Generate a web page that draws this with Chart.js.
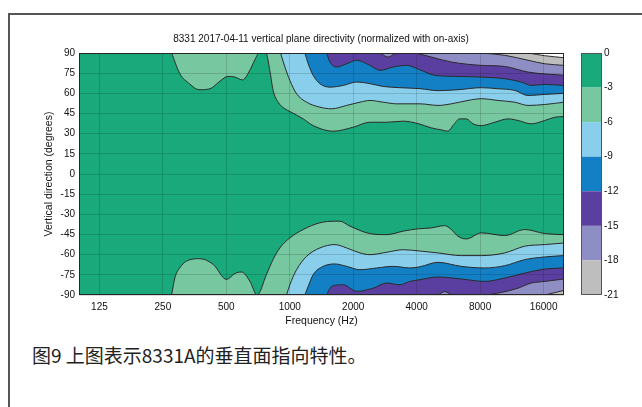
<!DOCTYPE html>
<html>
<head>
<meta charset="utf-8">
<script src="https://cdn.jsdelivr.net/npm/chart.js@4.4.0/dist/chart.umd.min.js"></script>
<style>
html, body { margin: 0; padding: 0; background: #fff; width: 642px; height: 407px; overflow: hidden; }
#frame { position: absolute; left: 8px; top: 13px; width: 700px; height: 500px; border-top: 2px solid #555; border-left: 2px solid #555; }
#wrap { position: absolute; left: 0; top: 0; width: 642px; height: 341px; }
#caption { position: absolute; left: 32px; top: 345px; font-family: "Noto Sans CJK SC", sans-serif; font-size: 19px; line-height: 1; color: #222; white-space: nowrap; }
</style>
</head>
<body>
<div id="frame"></div>
<div id="wrap"><canvas id="myChart"></canvas></div>
<div id="caption">图9 上图表示8331A的垂直面指向特性。</div>
<script>
// axes
const freqTicks = [125, 250, 500, 1000, 2000, 4000, 8000, 16000];
const levels = [0, -3, -6, -9, -12, -15, -18, -21];
// colour of the band under each level (0..-3 is the first), white past -21
const bandColors = ['#19a97b', '#77c8a0', '#89ceea', '#137fc5', '#5b3fa0', '#8e8ec4', '#bebebe', '#ffffff'];

// contour lines, upper half (angle > 0)
const top3Freq = [275, 301, 335, 371, 418, 466, 510, 549, 597, 646, 683, 716, 770, 804, 834, 881, 948, 1001, 1158, 1291, 1607, 2000, 2400, 2882, 3454, 4056, 4692, 5234, 5630, 5947, 6400, 6879, 7402, 8106, 9383, 10850, 12110, 14000, 16210, 18080, 20000];
const top3Ang = [90, 74.6, 67, 62.7, 63.4, 69, 72.6, 72.1, 70, 77, 85, 90, 90, 77, 62, 53.4, 48.5, 46.5, 41, 36, 31.8, 34.8, 38.5, 38.5, 39.3, 37.5, 34.3, 32.8, 31.8, 36, 41, 41, 37.3, 36, 38.5, 41, 39.8, 37.3, 39.8, 42.2, 42.8];
const top6Freq = [904, 948, 1001, 1077, 1202, 1390, 1579, 1861, 2152, 2400, 2776, 3213, 3717, 4147, 5049, 5840, 7007, 8106, 9729, 11680, 13500, 16210, 20000];
const top6Ang = [90, 79.6, 69.6, 59.7, 53.4, 49.7, 48.5, 51, 53.4, 54.7, 53.4, 52.2, 52.2, 52.2, 51, 52.2, 54.7, 56, 54.7, 53.4, 51, 51.7, 53.4];
const top9Freq = [1179, 1223, 1291, 1390, 1550, 1793, 2075, 2400, 2776, 3331, 4147, 5049, 6281, 8106, 9729, 11680, 13500, 16210, 20000];
const top9Ang = [90, 82, 73.4, 67.2, 64.6, 65.9, 68.4, 67.2, 65.1, 64.2, 63.5, 62, 62.7, 64.2, 63.4, 62.2, 58.4, 59.2, 60];
const top12Freq = [1495, 1550, 1668, 1861, 2075, 2400, 2678, 3097, 3585, 4147, 4870, 6281, 8106, 10470, 12550, 14000, 16210, 20000];
const top12Ang = [90, 83.3, 79.6, 82, 84.6, 80.8, 77.1, 79.6, 80.8, 77.5, 73.4, 72.6, 72.1, 70.9, 68.4, 65.9, 66.6, 65.9];
const top15Freq = [2678, 2932, 3154, 3406, 3883, 4056, 4692, 5840, 8106, 10470, 13500, 20000];
const top15Ang = [90, 87, 89.5, 90, 90, 89.5, 87, 83.3, 80.8, 80, 75.8, 73.4];
const top18Freq = [8106, 10470, 13500, 16210, 20000];
const top18Ang = [90, 88.3, 84.6, 82, 80.8];
const top21Freq = [13500, 16210, 20000];
const top21Ang = [90, 88, 86.5];

// contour lines, lower half (angle < 0)
const bot3Freq = [275, 285, 301, 324, 374, 433, 501, 549, 590, 646, 700, 776, 834, 897, 1001, 1158, 1390, 1637, 1729, 1929, 2400, 2882, 3454, 4056, 4692, 5431, 5840, 6281, 6879, 8106, 10470, 13020, 16210, 20000];
const bot3Ang = [-90, -77.2, -69.7, -64.7, -63, -67.2, -78.4, -74, -72.9, -79.6, -90, -74.6, -63.4, -55, -47.5, -41.3, -36.3, -35.1, -35.1, -38.8, -44.3, -45.1, -42.5, -40.8, -40.1, -38.4, -41.3, -46.3, -48.3, -43.8, -45.8, -41.3, -44.3, -45.1];
const bot6Freq = [965, 1001, 1077, 1202, 1390, 1637, 1861, 2152, 2400, 2882, 3454, 4147, 5049, 6512, 8106, 10470, 13020, 16210, 20000];
const bot6Ang = [-90, -82.4, -71.2, -61.2, -55, -52.5, -55, -58.7, -60, -58.2, -56.3, -57.3, -58.7, -60.7, -60.7, -58.7, -53.7, -52.5, -51.3];
const bot9Freq = [1179, 1223, 1291, 1441, 1637, 1861, 2152, 2583, 3097, 3717, 4147, 5049, 6512, 8411, 10470, 13020, 16210, 20000];
const bot9Ang = [-90, -83.6, -74.9, -68.7, -66.9, -68.7, -71.2, -69.9, -68.7, -69.9, -69, -65.7, -68.7, -69.9, -68.2, -63.7, -61.7, -60.7];
const bot12Freq = [1495, 1579, 1793, 2075, 2488, 2882, 3331, 3717, 4147, 5049, 6512, 8411, 10470, 13020, 16210, 20000];
const bot12Ang = [-90, -83.6, -82.4, -87.3, -84.9, -81.1, -82.4, -79.9, -78.6, -76.6, -78.1, -79.9, -77.4, -73.7, -70.7, -69.9];
const bot15Freq = [5049, 5431, 5947, 8106, 10080, 12110, 14000, 16210, 20000];
const bot15Ang = [-90, -87.5, -90, -90, -88.1, -84.9, -81.1, -79.9, -78.1];
const bot18Freq = [16210, 20000];
const bot18Ang = [-90, -86.6];

(() => {
    const myChart = document.getElementById('myChart').getContext('2d');
    const fontFam = '"Liberation Sans", Arial, sans-serif';

    // deepest level first so it ends up drawn on top
    const contours = [
        [-21, top21Freq, top21Ang, 'end'],
        [-18, top18Freq, top18Ang, 'end'],
        [-18, bot18Freq, bot18Ang, 'start'],
        [-15, top15Freq, top15Ang, 'end'],
        [-15, bot15Freq, bot15Ang, 'start'],
        [-12, top12Freq, top12Ang, 'end'],
        [-12, bot12Freq, bot12Ang, 'start'],
        [-9, top9Freq, top9Ang, 'end'],
        [-9, bot9Freq, bot9Ang, 'start'],
        [-6, top6Freq, top6Ang, 'end'],
        [-6, bot6Freq, bot6Ang, 'start'],
        [-3, top3Freq, top3Ang, 'end'],
        [-3, bot3Freq, bot3Ang, 'start']
    ];

    const datasets = contours.map(([level, f, a, fill]) => ({
        label: level + ' dB',
        data: f.map((v, i) => ({ x: v, y: a[i] })),
        fill: fill,
        backgroundColor: bandColors[-level / 3],
        borderColor: '#2b2b2b',
        borderWidth: 1,
        pointRadius: 0,
        cubicInterpolationMode: 'monotone'
    }));

    const contourPlugin = {
        id: 'contourExtras',
        beforeDatasetsDraw(chart) {
            const { ctx, chartArea: a } = chart;
            ctx.save();
            ctx.fillStyle = bandColors[0];
            ctx.fillRect(a.left, a.top, a.right - a.left, a.bottom - a.top);
            ctx.restore();
        },
        afterDraw(chart) {
            const { ctx, chartArea: a } = chart;
            const cb = chart.scales.cb;
            ctx.save();
            ctx.strokeStyle = '#262626';
            ctx.lineWidth = 1;
            ctx.strokeRect(a.left + 0.5, a.top + 0.5, a.right - a.left - 1, a.bottom - a.top - 1);
            // colorbar
            const x0 = a.right + 17;
            const w = 21;
            for (let i = 0; i < levels.length - 1; i++) {
                const y0 = cb.getPixelForValue(levels[i]);
                const y1 = cb.getPixelForValue(levels[i + 1]);
                ctx.fillStyle = bandColors[i];
                ctx.fillRect(x0, y0, w, y1 - y0);
            }
            ctx.strokeStyle = '#555';
            ctx.strokeRect(x0 + 0.5, cb.top + 0.5, w - 1, cb.bottom - cb.top - 1);
            ctx.restore();
        }
    };

    const grafica = new Chart(myChart, {
        type: 'line',
        data: { datasets: datasets },
        plugins: [contourPlugin],
        options: {
            responsive: true,
            maintainAspectRatio: false,
            animation: false,
            layout: { padding: 0 },
            plugins: {
                legend: { display: false },
                tooltip: { enabled: false },
                title: {
                    display: true,
                    text: '8331 2017-04-11 vertical plane directivity (normalized with on-axis)',
                    color: '#111',
                    font: { family: fontFam, size: 10, weight: 'normal' },
                    padding: { top: 33, bottom: 8 }
                }
            },
            scales: {
                x: {
                    type: 'logarithmic',
                    min: 100,
                    max: 20000,
                    afterBuildTicks: axis => { axis.ticks = freqTicks.map(v => ({ value: v })); },
                    afterFit: scale => { scale.height = 37; },
                    ticks: {
                        autoSkip: false,
                        maxRotation: 0,
                        padding: 6,
                        color: '#111',
                        font: { family: fontFam, size: 10 },
                        callback: v => String(v)
                    },
                    grid: { color: 'rgba(0,0,0,0.14)', drawTicks: false, z: 1 },
                    border: { display: false },
                    title: {
                        display: true,
                        text: 'Frequency (Hz)',
                        color: '#111',
                        font: { family: fontFam, size: 10.5 },
                        padding: { top: 2, bottom: 5 }
                    }
                },
                y: {
                    type: 'linear',
                    min: -90,
                    max: 90,
                    afterFit: scale => { scale.width = 79; },
                    ticks: {
                        stepSize: 15,
                        padding: 4,
                        color: '#111',
                        font: { family: fontFam, size: 10 }
                    },
                    grid: { color: 'rgba(0,0,0,0.14)', drawTicks: false, z: 1 },
                    border: { display: false },
                    title: {
                        display: true,
                        text: 'Vertical direction (degrees)',
                        color: '#111',
                        font: { family: fontFam, size: 10.5 },
                        padding: { top: 43, bottom: 0 }
                    }
                },
                cb: {
                    type: 'linear',
                    position: 'right',
                    min: -21,
                    max: 0,
                    afterFit: scale => { scale.width = 78; },
                    ticks: {
                        stepSize: 3,
                        padding: 40,
                        color: '#111',
                        font: { family: fontFam, size: 10 }
                    },
                    grid: { display: false, drawTicks: false },
                    border: { display: false }
                }
            }
        }
    });
})()
</script>
</body>
</html>
